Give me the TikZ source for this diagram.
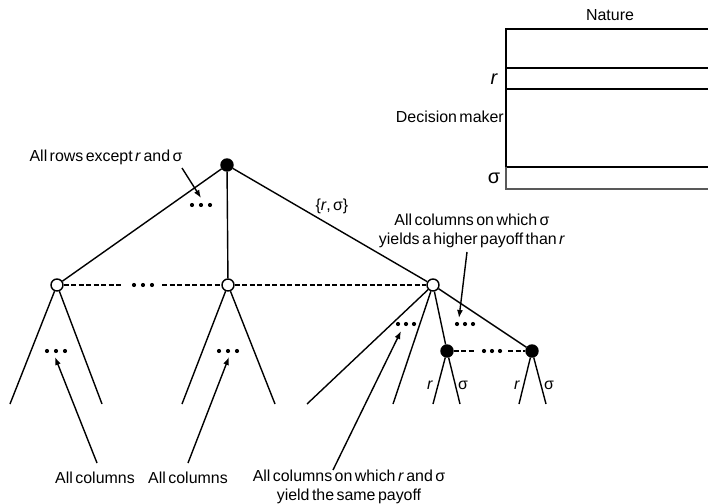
\documentclass[tikz,border=0pt]{standalone}
\usepackage{fontspec}
\setmainfont[WordSpace=0.55]{Liberation Sans}
\usetikzlibrary{arrows.meta}
\begin{document}
\begin{tikzpicture}[x=1bp,y=-1bp,
  ln/.style={line width=1.4bp},
  dsh/.style={line width=1.4bp,dash pattern=on 5bp off 2.5bp},
  opennode/.style={circle,draw,fill=white,line width=1.4bp,minimum size=12bp,inner sep=0pt},
  fullnode/.style={circle,draw,fill=black,line width=1.4bp,minimum size=12bp,inner sep=0pt},
  lbl/.style={inner sep=0pt,font=\fontsize{16}{18.5}\selectfont,align=center},
  big/.style={inner sep=0pt,font=\fontsize{20}{22}\selectfont},
  arr/.style={line width=1.4bp,-{Latex[length=8bp,width=6bp]}},
  dot/.style={circle,fill=black,inner sep=0pt,minimum size=4.2bp}]
\useasboundingbox (0,0) rectangle (708,504);
% table
\draw[ln] (708,29) -- (506,29) -- (506,167);
\draw[ln] (506,68) -- (708,68);
\draw[ln] (506,89) -- (708,89);
\draw[ln] (506,167) -- (708,167);
\draw[line width=1.1bp,gray!70!black] (506,167) -- (506,189) -- (708,189);
\node[lbl] (nat) at (610,15) {Nature};
\node[big] (rr) at (494,79) {\itshape r};
\node[lbl,anchor=east] (dm) at (504,117) {Decision maker};
\node[big] (ss) at (494,178) {σ};
% tree nodes
\node[fullnode] (root) at (227,165) {};
\node[opennode] (L) at (57,285) {};
\node[opennode] (M) at (228,285) {};
\node[opennode] (R) at (433,285) {};
\node[fullnode] (B1) at (447,351) {};
\node[fullnode] (B2) at (532,351) {};
% edges
\draw[ln] (root) -- (L);
\draw[ln] (root) -- (M);
\draw[ln] (root) -- (R);
\draw[ln] (R) -- (B1);
\draw[ln] (R) -- (B2);
\coordinate (l1) at (10,404); \coordinate (l2) at (102,404);
\coordinate (m1) at (182,404); \coordinate (m2) at (275,404);
\coordinate (r1) at (307,404); \coordinate (r2) at (393,404);
\coordinate (b11) at (433,404); \coordinate (b12) at (460,404);
\coordinate (b21) at (519,404); \coordinate (b22) at (546,404);
\draw[ln] (L) -- (l1); \draw[ln] (L) -- (l2);
\draw[ln] (M) -- (m1); \draw[ln] (M) -- (m2);
\draw[ln] (R) -- (r1); \draw[ln] (R) -- (r2);
\draw[ln] (B1) -- (b11); \draw[ln] (B1) -- (b12);
\draw[ln] (B2) -- (b21); \draw[ln] (B2) -- (b22);
% information sets
\coordinate (d1a) at (123,285); \coordinate (d1b) at (162,285);
\draw[dsh] (L) -- (d1a);
\draw[dsh] (d1b) -- (M);
\draw[dsh] (M) -- (R);
\coordinate (d2a) at (475,351); \coordinate (d2b) at (508,351);
\draw[dsh] (B1) -- (d2a);
\draw[dsh] (d2b) -- (B2);
% dots
\foreach \x/\y in {134/285,143/285,152/285,
                   192/205,201/205,210/205,
                   47/351,56/351,65/351,
                   219/351,228/351,237/351,
                   398/324,406/324,414/324,
                   457/324,465/324,473/324,
                   484/351,492/351,500/351}
  \node[dot] at (\x,\y) {};
% labels
\node[lbl] (tr) at (106,157) {All rows except \textit{r} and σ};
\node[lbl] (rs) at (332,206) {\{\textit{r}, σ\}};
\node[lbl] (th) at (472,231) {All columns on which σ\\yields a higher payoff than \textit{r}};
\node[lbl] (c1) at (95,478) {All columns};
\node[lbl] (c2) at (188,478) {All columns};
\node[lbl] (c3) at (349,487) {All columns on which \textit{r} and σ\\yield the same payoff};
\node[lbl] at (430,385) {\textit{r}};
\node[lbl] at (463,385) {σ};
\node[lbl] at (517,385) {\textit{r}};
\node[lbl] at (549,385) {σ};
% arrows
\coordinate (a1t) at (182,168); \coordinate (a1h) at (201,198);
\coordinate (a2t) at (97,463); \coordinate (a2h) at (55,357);
\coordinate (a3t) at (188,463); \coordinate (a3h) at (229,357);
\coordinate (a4t) at (333,470); \coordinate (a4h) at (401,331);
\coordinate (a5t) at (467,252); \coordinate (a5h) at (459,318);
\draw[arr] (a1t) -- (a1h);
\draw[arr] (a2t) -- (a2h);
\draw[arr] (a3t) -- (a3h);
\draw[arr] (a4t) -- (a4h);
\draw[arr] (a5t) -- (a5h);
\end{tikzpicture}
\end{document}
